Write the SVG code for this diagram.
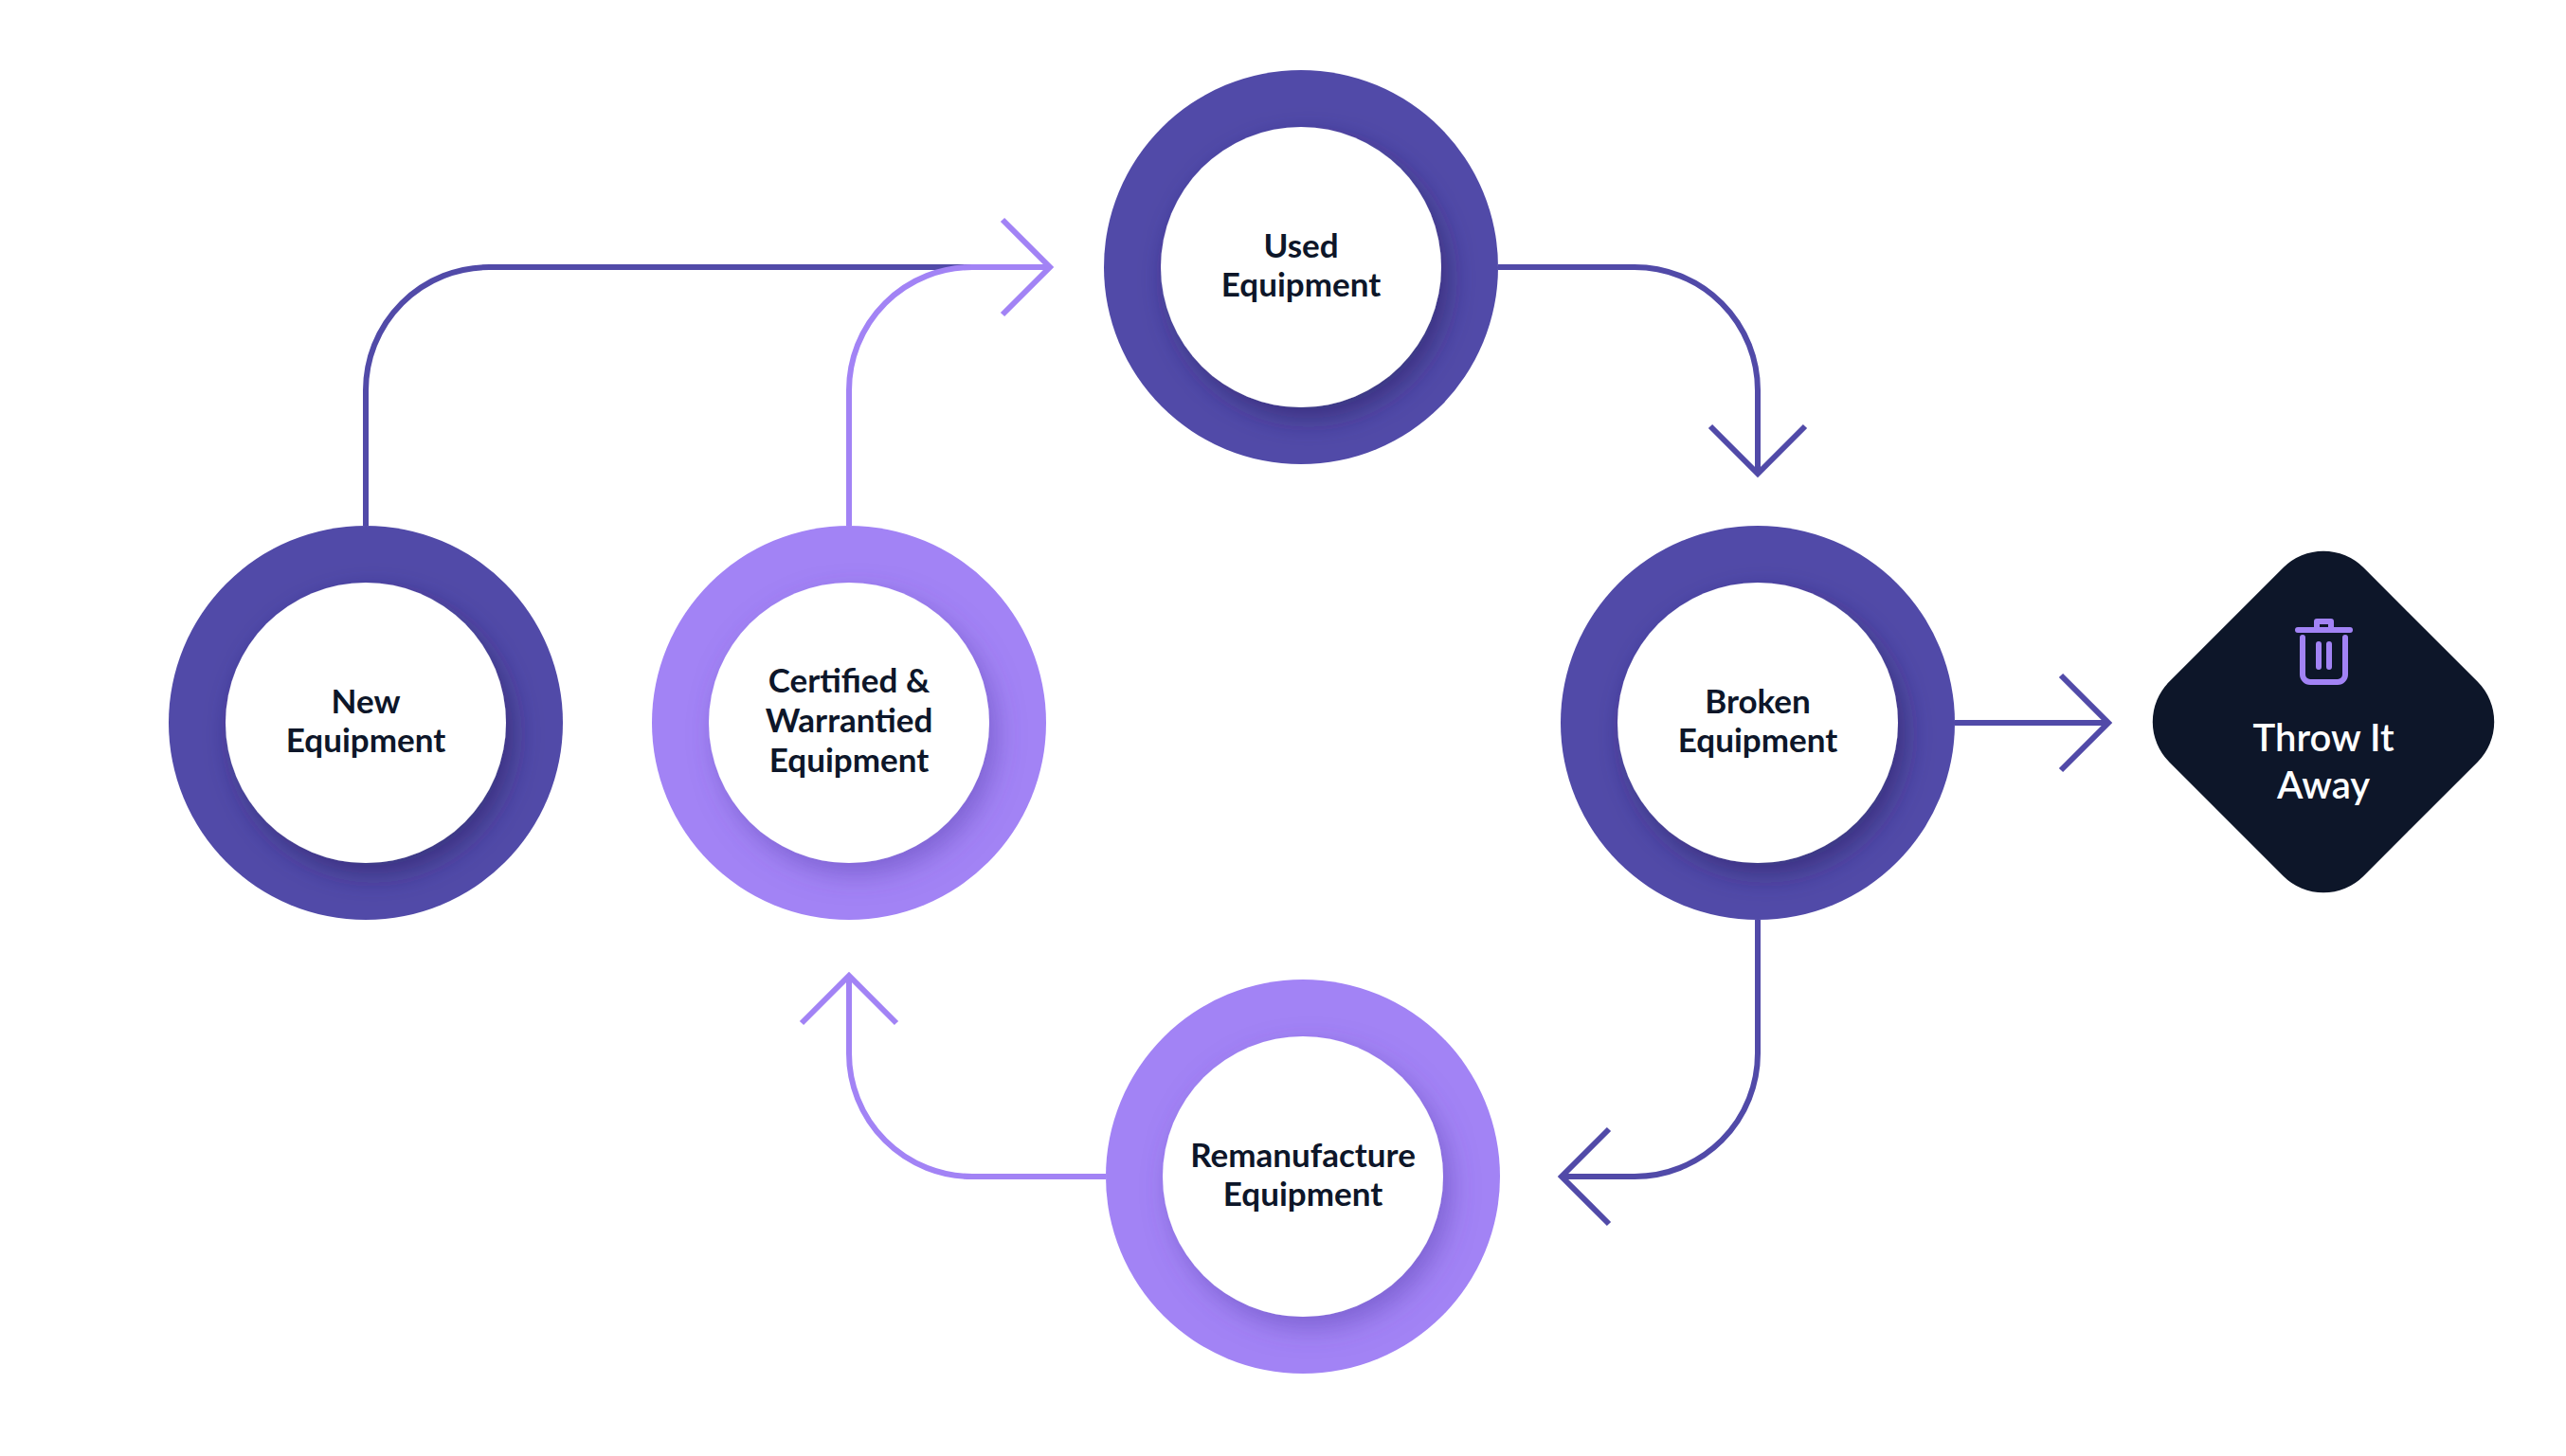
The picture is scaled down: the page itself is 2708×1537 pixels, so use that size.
<svg xmlns="http://www.w3.org/2000/svg" width="2708" height="1537" viewBox="0 0 2708 1537">
<defs>
<filter id="sh" x="-30%" y="-30%" width="160%" height="160%"><feDropShadow dx="8" dy="12" stdDeviation="14" flood-color="#2a2260" flood-opacity="0.55"/></filter>
<filter id="shl" x="-30%" y="-30%" width="160%" height="160%"><feDropShadow dx="8" dy="12" stdDeviation="14" flood-color="#5a3fb0" flood-opacity="0.5"/></filter>
</defs>
<style>
.dk{fill:#514aa8}.lt{fill:#a283f5}.in{fill:#fff}
.lbl{font-family:Lato,"Open Sans",sans-serif;font-weight:700;font-size:35px;fill:#0d1629;text-anchor:middle}
.cd{fill:none;stroke:#514aa8;stroke-width:6}.cl{fill:none;stroke:#a283f5;stroke-width:6}
</style>
<rect width="2708" height="1537" fill="#fff"/>
<g id="connectors">
<path class="cd" d="M386 555 V412 A130 130 0 0 1 516 282 H1108"/>
<path class="cl" d="M896 555 V412 A130 130 0 0 1 1026 282 H1108"/>
<path class="cl" d="M1058 232 L1108 282 L1058 332"/>
<path class="cd" d="M1581 282 H1725 A130 130 0 0 1 1855 412 V500"/>
<path class="cd" d="M1805 450 L1855 500 L1905 450"/>
<path class="cd" d="M2063 763 H2225"/>
<path class="cd" d="M2175 713 L2225 763 L2175 813"/>
<path class="cd" d="M1855 971 V1112 A130 130 0 0 1 1725 1242 H1648"/>
<path class="cd" d="M1698 1192 L1648 1242 L1698 1292"/>
<path class="cl" d="M1167 1242 H1026 A130 130 0 0 1 896 1112 V1030"/>
<path class="cl" d="M846 1080 L896 1030 L946 1080"/>
</g>
<g id="used"><circle class="dk" cx="1373" cy="282" r="208"/><circle class="in" cx="1373" cy="282" r="148" filter="url(#sh)"/>
<text class="lbl" x="1373" y="272">Used</text><text class="lbl" x="1373" y="313">Equipment</text></g>
<g id="new"><circle class="dk" cx="386" cy="763" r="208"/><circle class="in" cx="386" cy="763" r="148" filter="url(#sh)"/>
<text class="lbl" x="386" y="753">New</text><text class="lbl" x="386" y="794">Equipment</text></g>
<g id="certified"><circle class="lt" cx="896" cy="763" r="208"/><circle class="in" cx="896" cy="763" r="148" filter="url(#shl)"/>
<text class="lbl" x="896" y="731">Certified &amp;</text><text class="lbl" x="896" y="773">Warrantied</text><text class="lbl" x="896" y="815">Equipment</text></g>
<g id="broken"><circle class="dk" cx="1855" cy="763" r="208"/><circle class="in" cx="1855" cy="763" r="148" filter="url(#sh)"/>
<text class="lbl" x="1855" y="753">Broken</text><text class="lbl" x="1855" y="794">Equipment</text></g>
<g id="remanufacture"><circle class="lt" cx="1375" cy="1242" r="208"/><circle class="in" cx="1375" cy="1242" r="148" filter="url(#shl)"/>
<text class="lbl" x="1375" y="1232">Remanufacture</text><text class="lbl" x="1375" y="1273">Equipment</text></g>
<g id="throw">
<rect x="2307" y="617" width="290" height="290" rx="60" fill="#0d1629" transform="rotate(45 2452 762)"/>
<g fill="none" stroke="#a283f5" stroke-width="6" stroke-linecap="round" stroke-linejoin="round">
<path d="M2425 665 H2480"/><path d="M2445 665 V656 H2460 V665"/><path d="M2430 673 V712 A8 8 0 0 0 2438 720 H2467 A8 8 0 0 0 2475 712 V673"/><path d="M2447 680 V704 M2458 680 V704"/>
</g>
<text x="2452" y="793" font-family="Lato,'Open Sans',sans-serif" font-weight="600" font-size="40" fill="#fff" text-anchor="middle">Throw It</text>
<text x="2452" y="843" font-family="Lato,'Open Sans',sans-serif" font-weight="600" font-size="40" fill="#fff" text-anchor="middle">Away</text>
</g>
</svg>
